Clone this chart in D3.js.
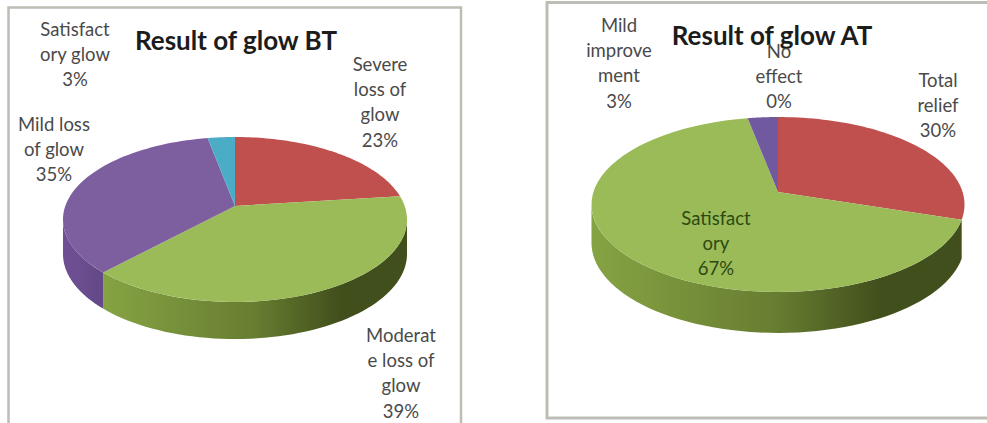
<!DOCTYPE html>
<html>
<head>
<meta charset="utf-8">
<script src="https://cdn.jsdelivr.net/npm/d3@7"></script>
<style>
  html, body { margin: 0; padding: 0; background: #fff; }
  svg { display: block; }
  text { font-family: Lato, "Open Sans", sans-serif; }
</style>
</head>
<body>
<svg id="chart" width="987" height="423"></svg>
<script>
// Before-treatment results
const btCategories = ["Severe loss of glow", "Moderate loss of glow", "Mild loss of glow", "Satisfactory glow"];
const btValues = [23, 39, 35, 3];
const btLabelLines = [["Severe", "loss of", "glow"], ["Moderat", "e loss of", "glow"], ["Mild loss", "of glow"], ["Satisfact", "ory glow"]];
const btColors = ["#c0504d", "#9bbb59", "#7d5fa0", "#4bacc6"];
const btWallColors = [["#8f3a38", "#6e2c2a"], ["#86a343", "#414f1c"], ["#6f4f94", "#644a88"], ["#3a8ba0", "#2f7a8e"]];

// After-treatment results
const atCategories = ["Total relief", "Satisfactory", "Mild improvement", "No effect"];
const atValues = [30, 67, 3, 0];
const atLabelLines = [["Total", "relief"], ["Satisfact", "ory"], ["Mild", "improve", "ment"], ["No", "effect"]];
const atColors = ["#c0504d", "#9bbb59", "#7159a0", "#4bacc6"];
const atWallColors = [["#8f3a38", "#6e2c2a"], ["#86a343", "#414f1c"], ["#5c4785", "#5c4785"], ["#3a8ba0", "#2f7a8e"]];

const svg = d3.select("#chart");
const defs = svg.append("defs");

// Panel frames
const frameColor = "#bdbdb6";
const frames = [
  { d: "M8.5,423V7.5H461V423", w: 2.5 },
  { d: "M987,2.5H547V418H987", w: 3 }
];
svg.selectAll("path.frame").data(frames).join("path")
  .attr("class", "frame")
  .attr("d", f => f.d)
  .attr("fill", "none")
  .attr("stroke", frameColor)
  .attr("stroke-width", f => f.w);

// Draws a tilted pie: the disc is a perspective view of a circle, so slices
// nearer the viewer open up and the apex sits above the middle of the ellipse.
function drawPie(cfg) {
  const g = svg.append("g");
  const pie = d3.pie().sort(null).value(d => d);
  const arcs = pie(cfg.values);

  const project = (theta, r = 1) => {
    const u = Math.sin(theta) * r, v = Math.cos(theta) * r;
    const w = 1 + cfg.k * v;
    return [cfg.ax + cfg.A * u / w, cfg.ay - cfg.B * v / w];
  };
  const drop = theta => cfg.depth / (1 + cfg.k * Math.cos(theta) * 0.5);
  const line = d3.line();
  const rim = (a0, a1) => d3.range(0, 61).map(i => a0 + (a1 - a0) * i / 60);

  // The wall is visible only between the two horizontal extremes of the disc
  const silhouette = Math.acos(-cfg.k);

  arcs.forEach((a, i) => {
    const a0 = Math.max(a.startAngle, silhouette);
    const a1 = Math.min(a.endAngle, 2 * Math.PI - silhouette);
    if (a1 <= a0) return;
    const top = rim(a0, a1).map(t => project(t));
    const xs = top.map(p => p[0]);
    // A wall seen almost edge-on at the silhouette would only be a hairline
    if (d3.max(xs) - d3.min(xs) < 4) return;
    const bottom = rim(a1, a0).map(t => {
      const p = project(t);
      return [p[0], p[1] + drop(t)];
    });
    const id = `${cfg.id}-wall-${i}`;
    const grad = defs.append("linearGradient").attr("id", id)
      .attr("gradientUnits", "userSpaceOnUse")
      .attr("x1", d3.min(xs)).attr("x2", d3.max(xs)).attr("y1", 0).attr("y2", 0);
    grad.append("stop").attr("offset", 0).attr("stop-color", cfg.wallColors[i][0]);
    grad.append("stop").attr("offset", 0.5).attr("stop-color", d3.interpolateRgb(cfg.wallColors[i][0], cfg.wallColors[i][1])(0.45));
    grad.append("stop").attr("offset", 0.78).attr("stop-color", cfg.wallColors[i][1]);
    grad.append("stop").attr("offset", 1).attr("stop-color", cfg.wallColors[i][1]);
    g.append("path")
      .attr("d", line(top.concat(bottom)) + "Z")
      .attr("fill", `url(#${id})`);
  });

  // Top face of each slice
  g.selectAll("path.slice").data(arcs).join("path")
    .attr("class", "slice")
    .attr("d", a => a.value === 0 ? null :
      line([[cfg.ax, cfg.ay]].concat(rim(a.startAngle, a.endAngle).map(t => project(t)))) + "Z")
    .attr("fill", (a, i) => cfg.colors[i]);

  // Title
  g.append("text")
    .attr("x", cfg.title.x).attr("y", cfg.title.y)
    .attr("text-anchor", "middle")
    .attr("font-size", 26).attr("font-weight", 700)
    .attr("fill", "#1c1c1c")
    .text(cfg.title.text);

  // Wrapped category labels, each closed by its percentage
  cfg.values.forEach((v, i) => {
    const spot = cfg.labelSpots[i];
    const lines = cfg.labelLines[i].concat(`${v}%`);
    const t = g.append("text")
      .attr("text-anchor", "middle")
      .attr("font-size", 18.5)
      .attr("fill", spot.fill || "#4a4a4a");
    lines.forEach((s, j) => {
      t.append("tspan").attr("x", spot.x).attr("y", spot.y + j * 25.2).text(s);
    });
  });
}

drawPie({
  id: "bt", values: btValues, colors: btColors, wallColors: btWallColors, labelLines: btLabelLines,
  ax: 235, ay: 206, A: 169.7, B: 80.3, k: 0.1636, depth: 34,
  title: { text: "Result of glow BT", x: 236, y: 50 },
  labelSpots: [{ x: 380, y: 71 }, { x: 401, y: 342 }, { x: 54, y: 131 }, { x: 75, y: 36 }]
});

drawPie({
  id: "at", values: atValues, colors: atColors, wallColors: atWallColors, labelLines: atLabelLines,
  ax: 778, ay: 192, A: 184.6, B: 85.7, k: 0.143, depth: 38,
  title: { text: "Result of glow AT", x: 772, y: 45 },
  labelSpots: [{ x: 938, y: 87 }, { x: 716, y: 225, fill: "#2c4a12" }, { x: 619, y: 32 }, { x: 779, y: 58 }]
});
</script>
</body>
</html>
